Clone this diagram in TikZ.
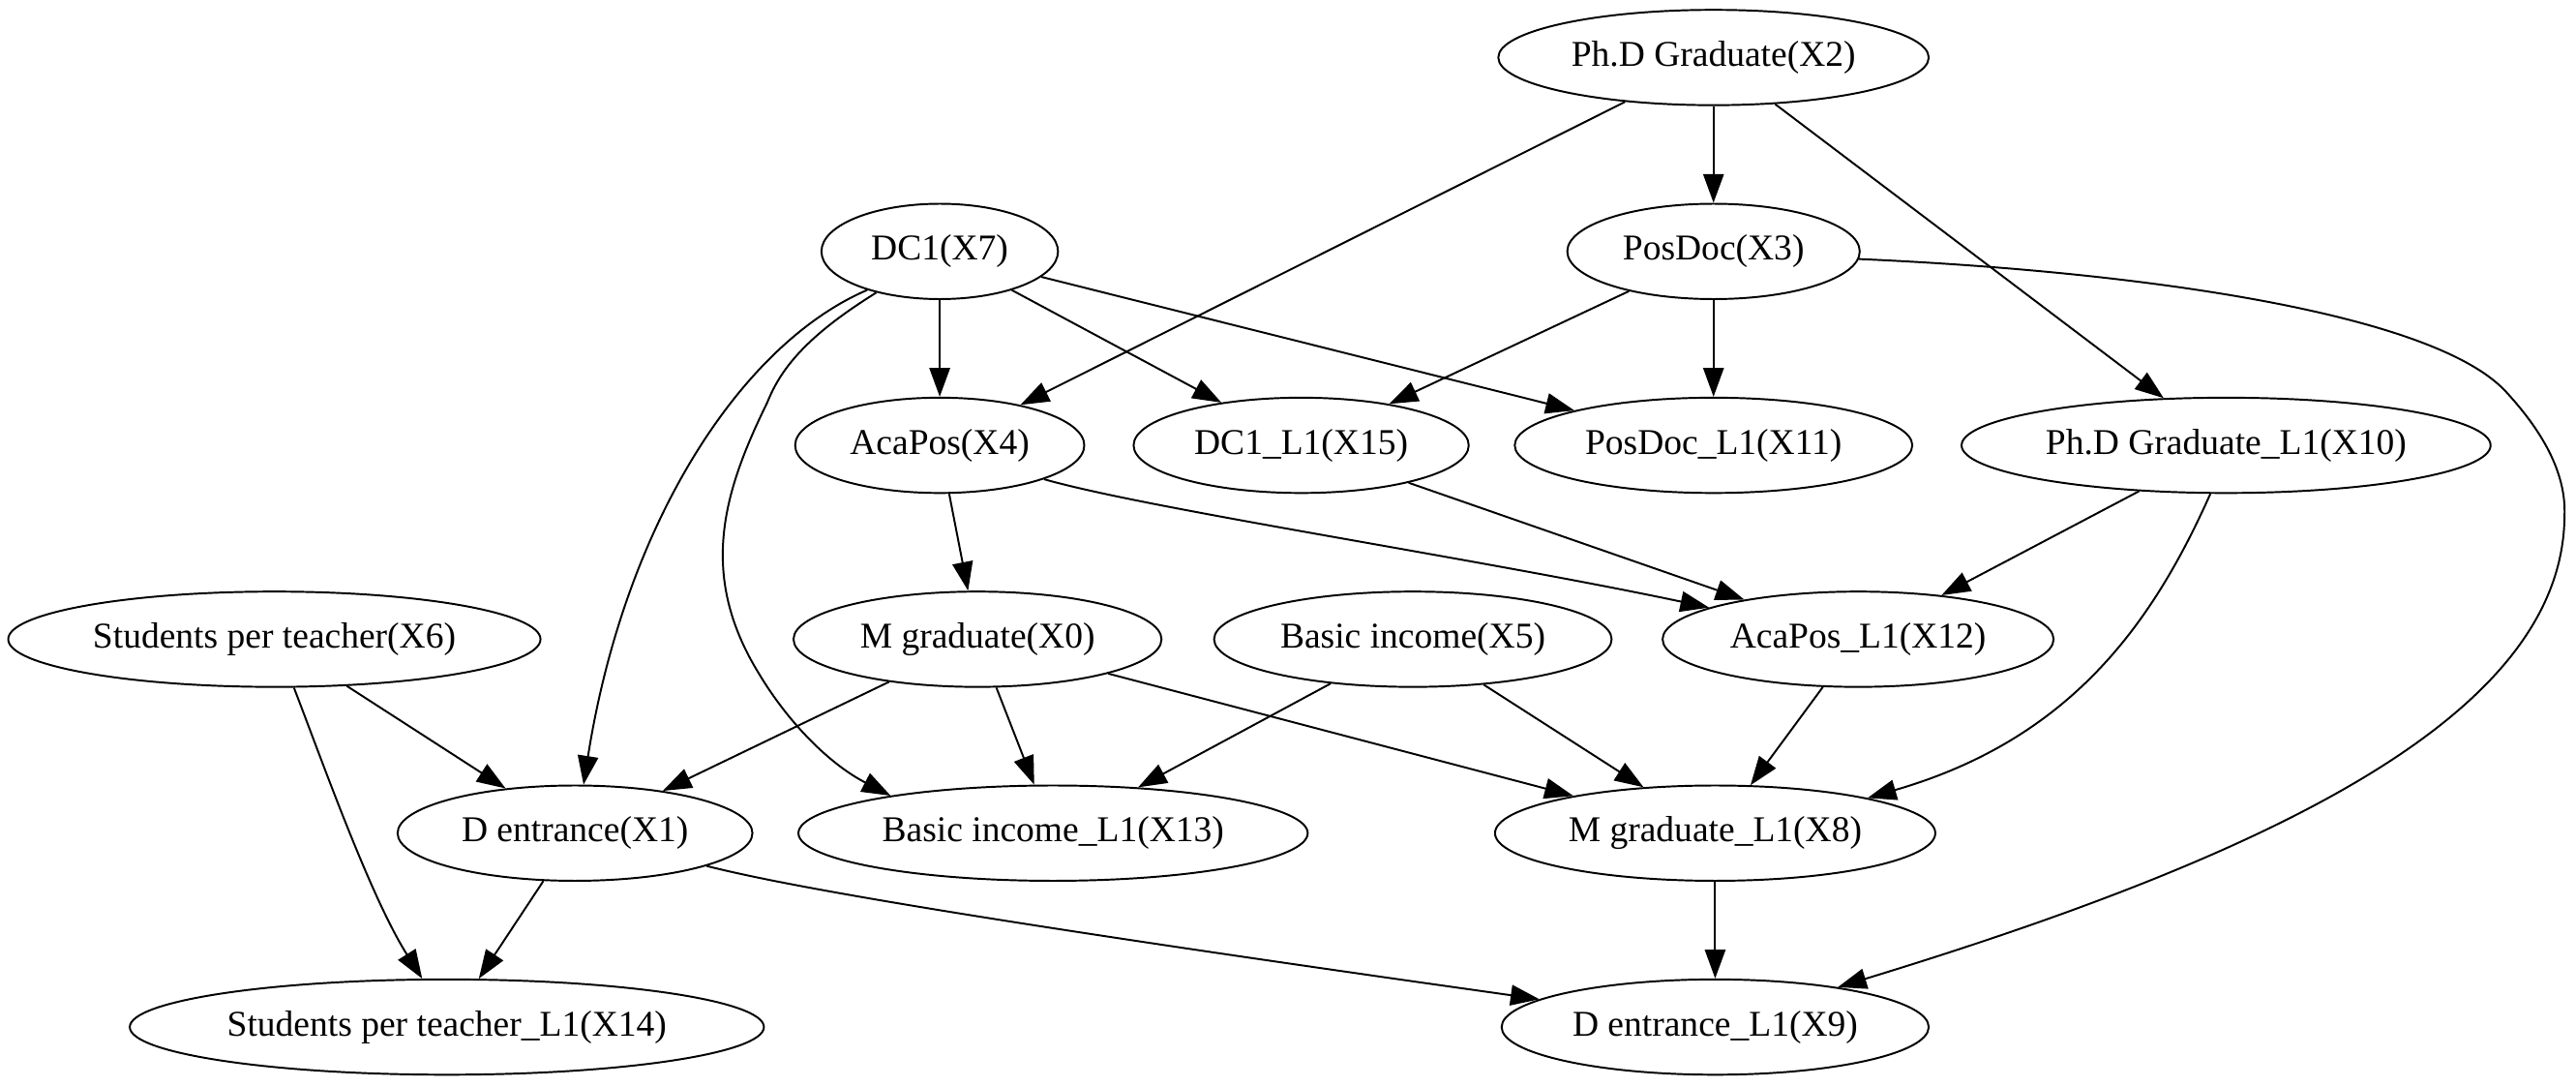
\documentclass[tikz,border=0pt]{standalone}
\usepackage{fontspec}
\setmainfont{Liberation Serif}
\usetikzlibrary{shapes.geometric,arrows.meta}
\begin{document}
\begin{tikzpicture}[x=1pt,y=-1pt,
  el/.style={ellipse,draw,line width=1.15pt,inner sep=0pt,minimum height=58pt,font=\fontsize{22.1}{26}\selectfont},
  conn/.style={line width=1.15pt,-{Triangle[length=17.5pt,width=12.5pt]}}]
\useasboundingbox (0,0) rectangle (1568,661);
\node[el,minimum width=262pt] (X2) at (1043,35) {Ph.D Graduate(X2)};
\node[el,minimum width=144pt] (X7) at (572,153) {DC1(X7)};
\node[el,minimum width=178pt] (X3) at (1043,153) {PosDoc(X3)};
\node[el,minimum width=176pt] (X4) at (572,271) {AcaPos(X4)};
\node[el,minimum width=204pt] (X15) at (792,271) {DC1\_L1(X15)};
\node[el,minimum width=242pt] (X11) at (1043,271) {PosDoc\_L1(X11)};
\node[el,minimum width=322pt] (X10) at (1355,271) {Ph.D Graduate\_L1(X10)};
\node[el,minimum width=324pt] (X6) at (167,389) {Students per teacher(X6)};
\node[el,minimum width=224pt] (X0) at (595,389) {M graduate(X0)};
\node[el,minimum width=242pt] (X5) at (860,389) {Basic income(X5)};
\node[el,minimum width=238pt] (X12) at (1131,389) {AcaPos\_L1(X12)};
\node[el,minimum width=216pt] (X1) at (350,507) {D entrance(X1)};
\node[el,minimum width=310pt] (X13) at (641,507) {Basic income\_L1(X13)};
\node[el,minimum width=268pt] (X8) at (1044,507) {M graduate\_L1(X8)};
\node[el,minimum width=386pt] (X14) at (272,625) {Students per teacher\_L1(X14)};
\node[el,minimum width=260pt] (X9) at (1044,625) {D entrance\_L1(X9)};
% straight connectors
\draw[conn] (X2) -- (X4);
\draw[conn] (X2) -- (X3);
\draw[conn] (X2) -- (X10);
\draw[conn] (X7) -- (X4);
\draw[conn] (X7) -- (X15);
\draw[conn] (X7) -- (X11);
\draw[conn] (X3) -- (X15);
\draw[conn] (X3) -- (X11);
\draw[conn] (X4) -- (X0);
\draw[conn] (X15) -- (X12);
\draw[conn] (X10) -- (X12);
\draw[conn] (X6) -- (X1);
\draw[conn] (X0) -- (X1);
\draw[conn] (X0) -- (X13);
\draw[conn] (X0) -- (X8);
\draw[conn] (X5) -- (X13);
\draw[conn] (X5) -- (X8);
\draw[conn] (X12) -- (X8);
\draw[conn] (X1) -- (X14);
\draw[conn] (X8) -- (X9);
% curved connectors
\draw[conn] (X7.208) .. controls (450,210) and (380,320) .. (X1.80);
\draw[conn] (X7.213) .. controls (490,205) and (475,225) .. (467,245)
  .. controls (440,300) and (425,350) .. (462,410)
  .. controls (480,440) and (505,465) .. (X13.167);
\draw[conn] (X3.357) .. controls (1300,165) and (1480,190) .. (1525,238)
  .. controls (1550,265) and (1562,290) .. (1561,314)
  .. controls (1560,430) and (1400,515) .. (X9.18);
\draw[conn] (X4.342) .. controls (700,310) and (900,340) .. (X12.168);
\draw[conn] (X10.252) .. controls (1310,380) and (1260,450) .. (X8.13);
\draw[conn] (X6.292) .. controls (195,460) and (225,545) .. (X14.117);
\draw[conn] (X1.346) .. controls (470,537) and (560,555) .. (X9.171);
\end{tikzpicture}
\end{document}
